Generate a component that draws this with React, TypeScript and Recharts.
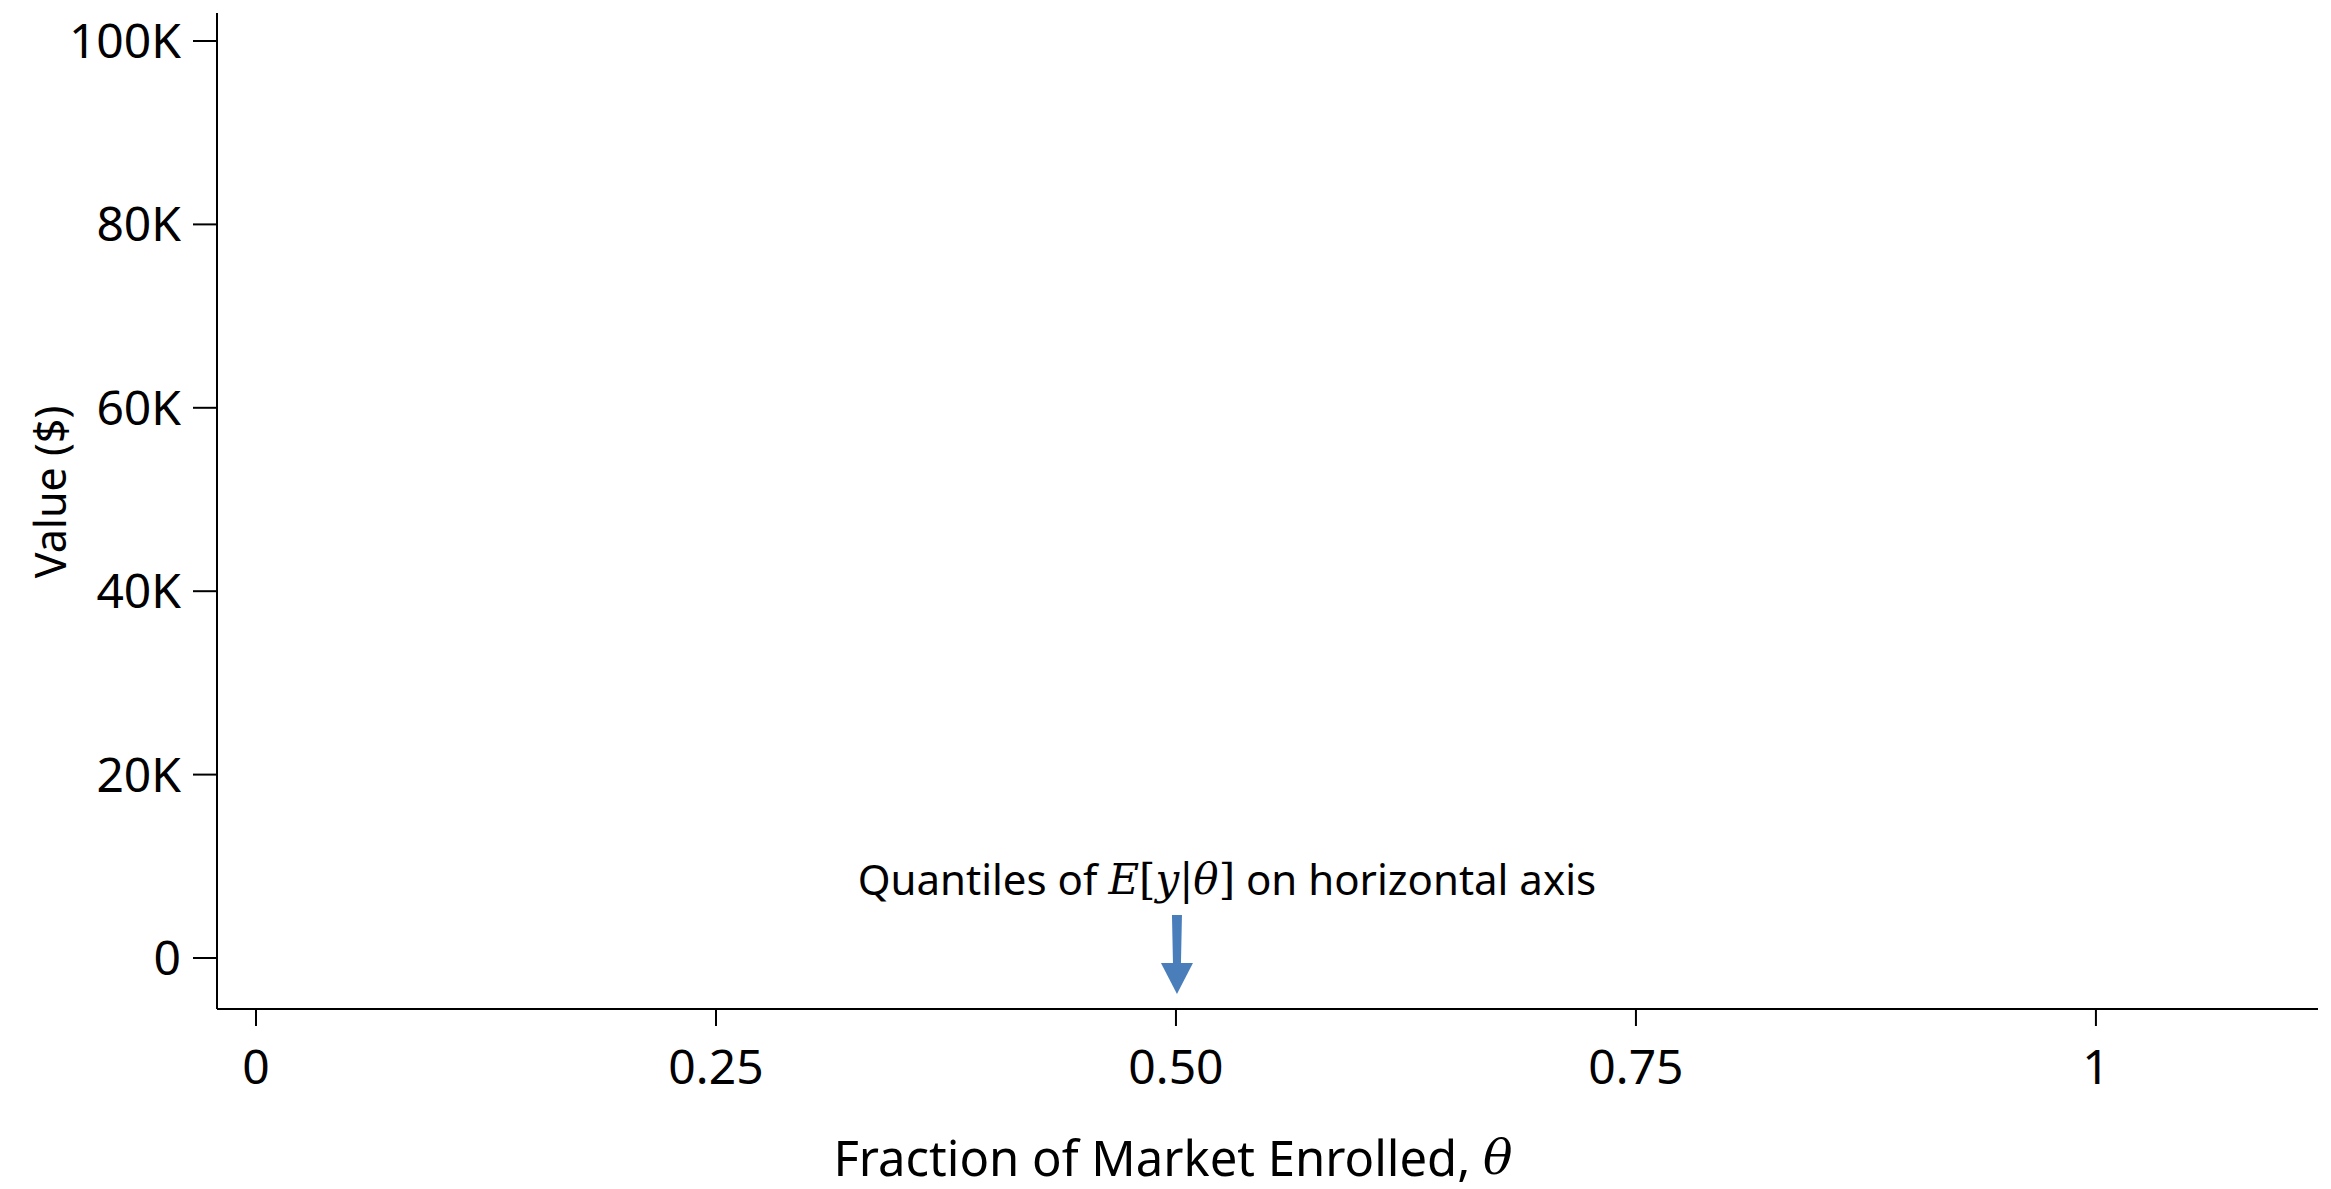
import React from 'react';
import { ComposedChart, XAxis, YAxis, ReferenceDot, Label } from 'recharts';

// axis ticks
const xTicks = [0, 0.25, 0.5, 0.75, 1];
const xTickLabels = ['0', '0.25', '0.50', '0.75', '1'];
const yTicks = [0, 20000, 40000, 60000, 80000, 100000];
const yTickLabels = ['0', '20K', '40K', '60K', '80K', '100K'];

// annotation: arrow pointing to theta = 0.5 on the horizontal axis
const arrowX = 0.5;
const arrowTipY = -3926;
const noteX = 0.5277;
const noteY = 8615;

const FONT = '"Noto Sans", sans-serif';
const MATH = '"DejaVu Serif", "Liberation Serif", serif';
const ARROW = '#4a7ebb';

const Arrow = (props: any) => {
    const { cx, cy } = props;
    if (cx == null || cy == null) return null;
    const x = cx + 1;
    return (
        <g>
            <polygon
                points={`${x - 5},${cy - 79} ${x + 5},${cy - 79} ${x + 4},${cy - 31} ${x - 4},${cy - 31}`}
                fill={ARROW}
            />
            <polygon points={`${x - 16},${cy - 31} ${x + 16},${cy - 31} ${x},${cy}`} fill={ARROW} />
        </g>
    );
};

const Note = (props: any) => {
    const { cx, cy } = props;
    if (cx == null || cy == null) return null;
    return (
        <text x={cx} y={cy} textAnchor="middle" dominantBaseline="central" fontFamily={FONT} fontSize={42} fill="#000">
            Quantiles of{' '}
            <tspan fontFamily={MATH} fontStyle="italic">E</tspan>
            <tspan fontFamily={MATH}>[</tspan>
            <tspan fontFamily={MATH} fontStyle="italic">y</tspan>
            <tspan fontFamily={MATH}>|</tspan>
            <tspan fontFamily={MATH} fontStyle="italic">θ</tspan>
            <tspan fontFamily={MATH}>]</tspan> on horizontal axis
        </text>
    );
};

const XTitle = (props: any) => {
    const vb = props.viewBox;
    return (
        <text x={1173} y={vb.y + 148} textAnchor="middle" dominantBaseline="central" fontFamily={FONT} fontSize={49} fill="#000">
            Fraction of Market Enrolled,{' '}
            <tspan fontFamily={MATH} fontStyle="italic">θ</tspan>
        </text>
    );
};

const YTitle = (props: any) => {
    const vb = props.viewBox;
    const cy = vb.y + vb.height / 2 - 19;
    return (
        <text
            x={49}
            y={cy}
            transform={`rotate(-90, 49, ${cy})`}
            textAnchor="middle"
            dominantBaseline="central"
            fontFamily={FONT}
            fontSize={43}
            fill="#000"
        >
            Value ($)
        </text>
    );
};

export default function App() {
    return (
        <div style={{ position: 'absolute', left: 0, top: 0, background: '#fff' }}>
            <ComposedChart width={2331} height={1189} data={[]} margin={{ top: 13, right: 13, bottom: 0, left: 0 }}>
                <XAxis
                    type="number"
                    dataKey="x"
                    domain={[-0.0212, 1.1207]}
                    allowDataOverflow
                    ticks={xTicks}
                    tickFormatter={(v: number) => xTickLabels[xTicks.indexOf(v)] ?? String(v)}
                    height={180}
                    tickSize={17}
                    tickMargin={24}
                    stroke="#000"
                    strokeWidth={2}
                    tick={{ fontSize: 48, fontFamily: FONT, fill: '#000' }}
                >
                    <Label content={<XTitle />} />
                </XAxis>
                <YAxis
                    type="number"
                    domain={[-5562, 103053]}
                    allowDataOverflow
                    ticks={yTicks}
                    tickFormatter={(v: number) => yTickLabels[yTicks.indexOf(v)] ?? String(v)}
                    width={217}
                    tickSize={24}
                    tickMargin={12}
                    stroke="#000"
                    strokeWidth={2}
                    tick={{ fontSize: 48, fontFamily: FONT, fill: '#000' }}
                >
                    <Label content={<YTitle />} />
                </YAxis>
                <ReferenceDot x={arrowX} y={arrowTipY} ifOverflow="visible" shape={<Arrow />} />
                <ReferenceDot x={noteX} y={noteY} ifOverflow="visible" shape={<Note />} />
            </ComposedChart>
        </div>
    );
}
